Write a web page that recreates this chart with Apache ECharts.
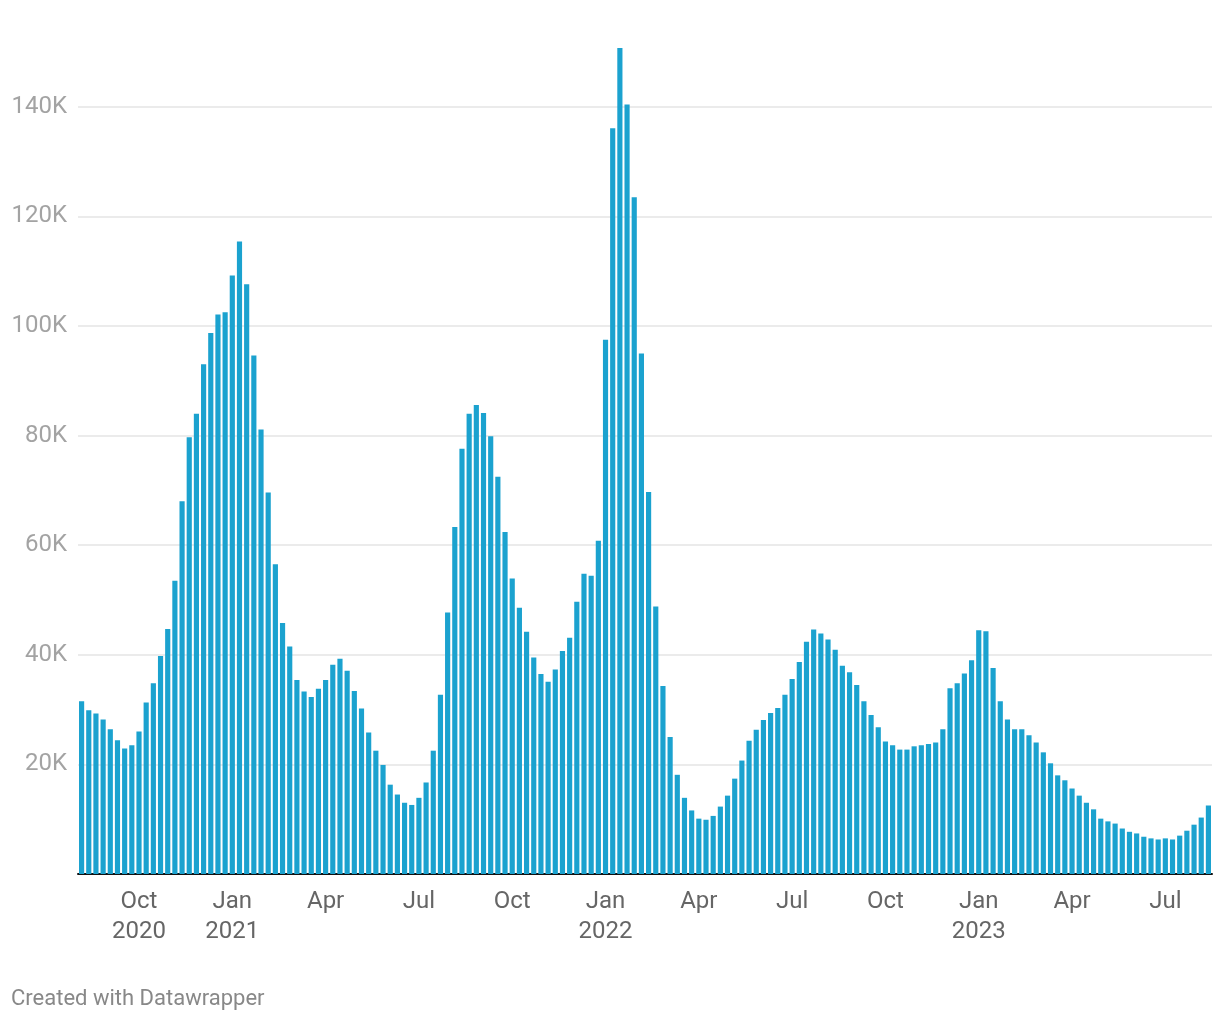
<!DOCTYPE html>
<html><head><meta charset="utf-8">
<script src="https://cdn.jsdelivr.net/npm/echarts@6/dist/echarts.min.js"></script>
<style>html,body{margin:0;padding:0;background:#fff}#c{width:1220px;height:1020px}</style>
</head><body><div id="c"></div>
<script>
// Weekly values, first week starting 2020-08-09
const startDate = '2020-08-09';
const values2020 = [31500,29900,29300,28200,26400,24400,22900,23500,26000,31300,34800,39800,44700,53500,68000,79700,84000,93000,98700,102100,102500];
const values2021 = [109200,115400,107600,94600,81100,69600,56500,45800,41500,35400,33300,32300,33800,35400,38200,39300,37100,33400,30200,25800,22500,19900,16300,14500,13000,12600,13900,16700,22500,32700,47700,63300,77600,84000,85600,84100,79900,72500,62400,53900,48600,44200,39500,36500,35100,37300,40700,43100,49700,54800,54400,60800];
const values2022 = [97500,136100,150700,140400,123500,95000,69700,48800,34300,25000,18100,13900,11600,10100,9900,10600,12300,14300,17400,20700,24300,26300,28100,29400,30300,32700,35600,38700,42400,44600,43900,42800,40900,38000,36800,34500,31500,29000,26800,24200,23500,22700,22700,23300,23500,23700,24000,26400,33900,34800,36600,39000];
const values2023 = [44500,44300,37600,31500,28200,26400,26400,25300,24000,22200,20200,18000,17100,15600,14300,13000,11800,10100,9600,9200,8300,7700,7400,6800,6500,6300,6500,6300,7000,7900,9000,10300,12500];
const monthNames = ['Jan','Feb','Mar','Apr','May','Jun','Jul','Aug','Sep','Oct','Nov','Dec'];
const labelMonths = [0,3,6,9];

const values = [].concat(values2020, values2021, values2022, values2023);
const categories = [];
{
  const d0 = new Date(startDate + 'T00:00:00Z');
  for (let i = 0; i < values.length; i++) {
    const d = new Date(d0.getTime() + i * 7 * 86400000);
    categories.push(d.toISOString().slice(0, 10));
  }
}
function isLabelWeek(s) {
  const d = new Date(s + 'T00:00:00Z');
  return d.getUTCDate() <= 7 && labelMonths.indexOf(d.getUTCMonth()) >= 0;
}
let firstLabelIdx = categories.findIndex(isLabelWeek);

const chart = echarts.init(document.getElementById('c'), null, {renderer: 'canvas'});
chart.setOption({
  backgroundColor: '#ffffff',
  animation: false,
  grid: {left: 78, right: 8, top: 41, bottom: 146, containLabel: false},
  xAxis: {
    type: 'category',
    data: categories,
    axisLine: {show: true, lineStyle: {color: '#111111', width: 2}},
    axisTick: {show: false},
    splitLine: {show: false},
    axisLabel: {
      interval: function (idx, val) { return isLabelWeek(val); },
      formatter: function (val, idx) {
        const d = new Date(val + 'T00:00:00Z');
        const m = monthNames[d.getUTCMonth()];
        if (d.getUTCMonth() === 0 || idx === firstLabelIdx) return m + '\n' + d.getUTCFullYear();
        return m;
      },
      color: '#666666',
      fontSize: 24,
      lineHeight: 30,
      margin: 13,
      fontFamily: 'Roboto'
    }
  },
  yAxis: {
    type: 'value',
    min: 0,
    max: 152000,
    interval: 20000,
    axisLine: {show: false},
    axisTick: {show: false},
    splitLine: {show: true, showMinLine: false, showMaxLine: false, lineStyle: {color: '#e5e5e5', width: 1.5}},
    axisLabel: {
      showMaxLabel: false,
      formatter: function (v) { return (v === 0 || v % 20000 !== 0) ? '' : (v / 1000) + 'K'; },
      color: '#a3a3a3',
      fontSize: 24,
      margin: 11,
      fontFamily: 'Roboto'
    }
  },
  series: [{
    type: 'bar',
    data: values,
    barCategoryGap: '28%',
    itemStyle: {color: '#1ba2cf'},
    clip: false
  }],
  graphic: [{
    type: 'text',
    left: 11,
    top: 988,
    style: {text: 'Created with Datawrapper', fill: '#888888', fontSize: 22, fontFamily: 'Roboto'}
  }]
});
</script>
</body></html>
